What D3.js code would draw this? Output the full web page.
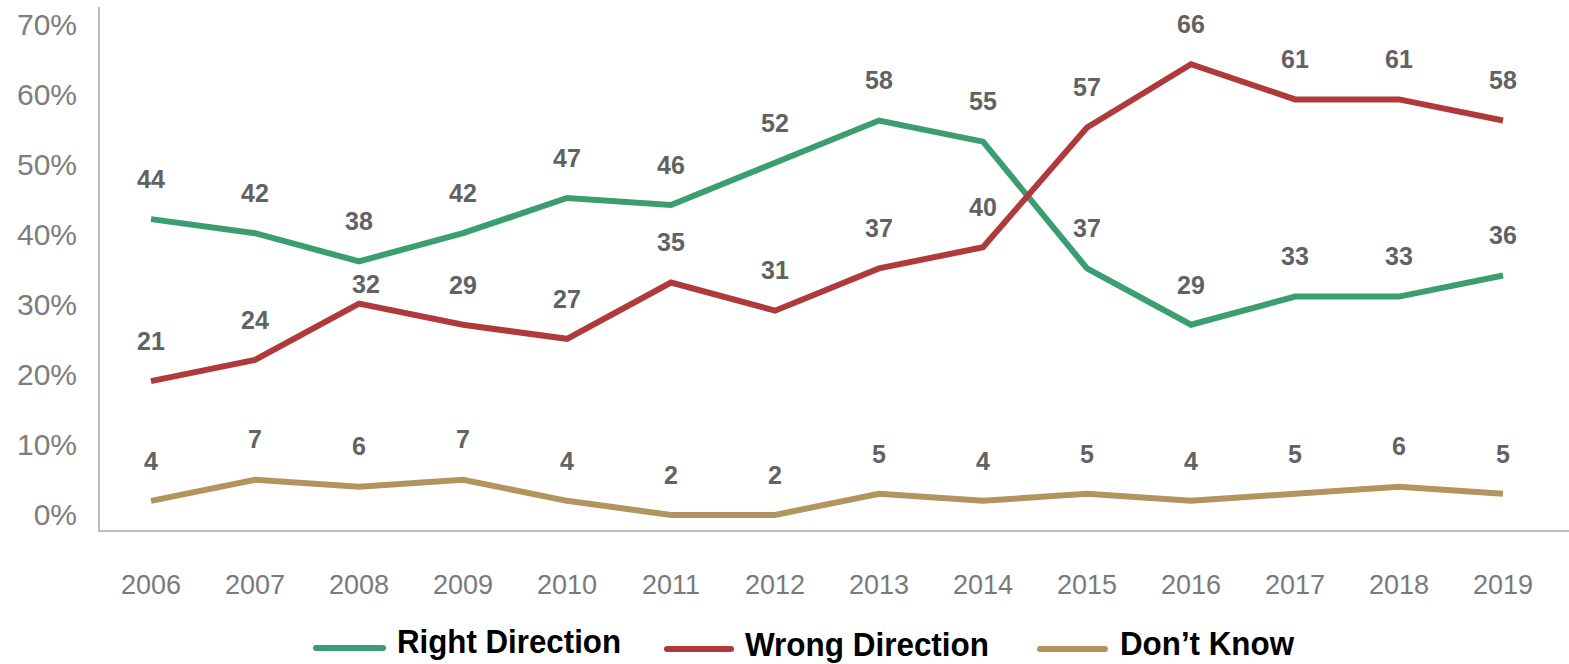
<!DOCTYPE html>
<html>
<head>
<meta charset="utf-8">
<script src="https://cdn.jsdelivr.net/npm/d3@7/dist/d3.min.js"></script>
<style>
  html, body { margin: 0; padding: 0; background: #ffffff; }
  svg { display: block; font-family: "Liberation Sans", Arial, sans-serif; }
</style>
</head>
<body>
<svg id="chart" width="1569" height="664"></svg>
<script>
// ---- data ----
const years = ["2006","2007","2008","2009","2010","2011","2012","2013","2014","2015","2016","2017","2018","2019"];
const rightDirection = [44, 42, 38, 42, 47, 46, 52, 58, 55, 37, 29, 33, 33, 36];
const wrongDirection = [21, 24, 32, 29, 27, 35, 31, 37, 40, 57, 66, 61, 61, 58];
const dontKnow       = [4, 7, 6, 7, 4, 2, 2, 5, 4, 5, 4, 5, 6, 5];
const yTicks = [0, 10, 20, 30, 40, 50, 60, 70];
const seriesNames = ["Right Direction", "Wrong Direction", "Don\u2019t Know"];

// ---- styles ----
const colors = ["#3a9e71", "#b0393b", "#b2955e"];
const series = [rightDirection, wrongDirection, dontKnow].map((values, i) => ({
  name: seriesNames[i], values, color: colors[i]
}));

const svg = d3.select("#chart");

const x = d3.scaleBand().domain(years).range([99, 1555]).padding(0);
const cx = d => x(d) + x.bandwidth() / 2;
const y = d3.scaleLinear().domain([0, 70]).range([529, 36]);        // plotted values
const yTickScale = d3.scaleLinear().domain([0, 70]).range([513.5, 23.5]); // tick label placement

// axis lines
svg.append("line").attr("x1", 99).attr("x2", 99).attr("y1", 7).attr("y2", 531)
  .attr("stroke", "#bdbdbd").attr("stroke-width", 2);
svg.append("line").attr("x1", 98).attr("x2", 1569).attr("y1", 531).attr("y2", 531)
  .attr("stroke", "#bdbdbd").attr("stroke-width", 2);

// y axis tick labels
const yAxis = svg.append("g").attr("transform", "translate(77,0)")
  .call(d3.axisLeft(yTickScale).tickValues(yTicks).tickSize(0).tickPadding(0).tickFormat(d => d + "%"));
yAxis.select(".domain").remove();
yAxis.selectAll("text")
  .attr("font-family", "'Liberation Sans', Arial, sans-serif")
  .attr("font-size", 30).attr("fill", "#7d7d7d").attr("dy", "0.35em");

// x axis tick labels
const xAxis = svg.append("g").attr("transform", "translate(0,585)")
  .call(d3.axisBottom(x).tickSize(0).tickPadding(0));
xAxis.select(".domain").remove();
xAxis.selectAll("text")
  .attr("font-family", "'Liberation Sans', Arial, sans-serif")
  .attr("font-size", 27).attr("fill", "#7a7a7a").attr("dy", "0.35em").attr("y", 0);

// lines
const line = d3.line().x((d, i) => cx(years[i])).y(d => y(d));
series.forEach(s => {
  svg.append("path").datum(s.values)
    .attr("d", line).attr("fill", "none")
    .attr("stroke", s.color).attr("stroke-width", 6)
    .attr("stroke-linejoin", "miter");
});

// data labels (with a small manual nudge for one label)
const nudges = { "1-2": [7, 21] };
series.forEach((s, si) => {
  svg.append("g").selectAll("text").data(s.values).join("text")
    .attr("x", (d, i) => cx(years[i]) + (nudges[si + "-" + i] ? nudges[si + "-" + i][0] : 0))
    .attr("y", (d, i) => y(d) - 40 + (nudges[si + "-" + i] ? nudges[si + "-" + i][1] : 0))
    .attr("dy", "0.35em")
    .attr("text-anchor", "middle")
    .attr("font-size", 25).attr("font-weight", "bold").attr("fill", "#626262")
    .text(d => d);
});

// legend
const legendItems = [
  { x1: 316, x2: 383, ly: 648, tx: 397, ty: 653, tw: 224 },
  { x1: 667, x2: 731, ly: 649, tx: 745, ty: 656, tw: 244 },
  { x1: 1040, x2: 1105, ly: 649, tx: 1120, ty: 655, tw: 174 }
];
const lg = svg.append("g").selectAll("g").data(series).join("g");
lg.append("line")
  .attr("x1", (d, i) => legendItems[i].x1).attr("x2", (d, i) => legendItems[i].x2)
  .attr("y1", (d, i) => legendItems[i].ly).attr("y2", (d, i) => legendItems[i].ly)
  .attr("stroke", d => d.color).attr("stroke-width", 6).attr("stroke-linecap", "round");
lg.append("text")
  .attr("x", (d, i) => legendItems[i].tx).attr("y", (d, i) => legendItems[i].ty)
  .attr("textLength", (d, i) => legendItems[i].tw).attr("lengthAdjust", "spacingAndGlyphs")
  .attr("font-size", 33).attr("font-weight", "bold").attr("fill", "#000000")
  .text(d => d.name);
</script>
</body>
</html>
